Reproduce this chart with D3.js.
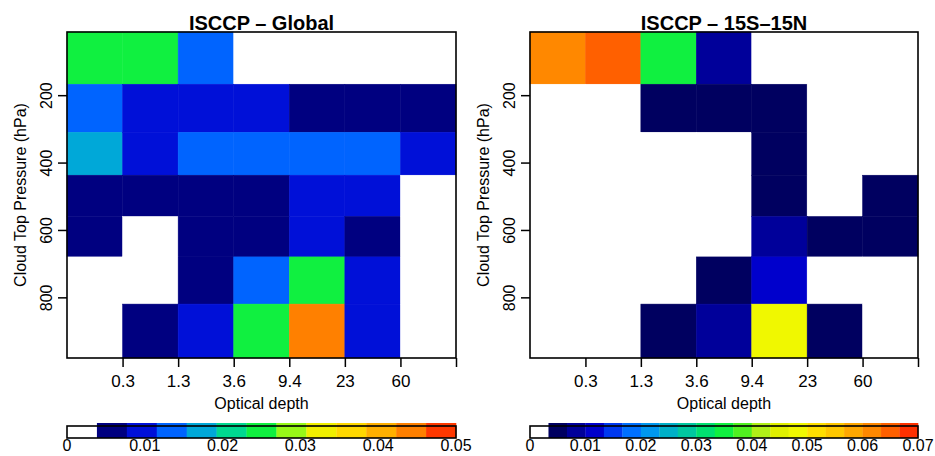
<!DOCTYPE html>
<html>
<head>
<meta charset="utf-8">
<script src="https://cdn.jsdelivr.net/npm/d3@7"></script>
<style>
  body { margin: 0; background: #fff; }
  text { font-family: "Liberation Sans", Arial, sans-serif; fill: #000; }
</style>
</head>
<body>
<div id="main"></div>
<script>
const width = 935;
const height = 456;

// optical depth bins (labels sit on bin edges)
const tauLabels = ["0.3", "1.3", "3.6", "9.4", "23", "60"];
// cloud top pressure bin edges, hPa (top -> bottom)
const presEdges = [12.5, 167.5, 310, 437.5, 560, 680, 820, 980];
const presTicks = [200, 400, 600, 800];

// rows = pressure bins from top (low hPa) to bottom, cols = optical depth bins
const globalVals = [
  [0.025, 0.025, 0.013, 0, 0, 0, 0],
  [0.013, 0.0095, 0.0095, 0.0095, 0.006, 0.006, 0.006],
  [0.017, 0.0095, 0.013, 0.013, 0.013, 0.013, 0.0095],
  [0.006, 0.006, 0.006, 0.006, 0.0095, 0.0095, 0.002],
  [0.005, 0.002, 0.005, 0.005, 0.009, 0.005, 0.001],
  [0.001, 0.002, 0.006, 0.013, 0.025, 0.009, 0.002],
  [0.0005, 0.005, 0.009, 0.024, 0.044, 0.009, 0.002]
];
const tropicsVals = [
  [0.062, 0.065, 0.035, 0.008, 0, 0, 0],
  [0.001, 0.002, 0.005, 0.005, 0.005, 0.002, 0.001],
  [0, 0.001, 0.002, 0.003, 0.005, 0.002, 0.001],
  [0, 0, 0.001, 0.003, 0.005, 0.002, 0.005],
  [0, 0, 0.001, 0.003, 0.008, 0.005, 0.005],
  [0, 0, 0.002, 0.005, 0.012, 0.003, 0.001],
  [0, 0, 0.005, 0.008, 0.047, 0.005, 0.002]
];

const globalTicks = [0, 0.01, 0.02, 0.03, 0.04, 0.05];
const tropicsTicks = [0, 0.01, 0.02, 0.03, 0.04, 0.05, 0.06, 0.07];

const globalColors = ["#000080", "#0010d8", "#0064ff", "#00a8d8", "#00d890", "#10f040",
  "#98f818", "#f0f000", "#ffd800", "#ffb000", "#ff8000", "#ff3800"];
const tropicsColors = ["#000060", "#00009a", "#0000cc", "#0038f0", "#0070ff", "#0098f0",
  "#00b0c8", "#00c8a0", "#00e070", "#10f040", "#50f020", "#b0f018", "#e0f000", "#f0f800",
  "#ffe000", "#ffc800", "#ffa800", "#ff8800", "#ff6000", "#ff3000"];

const panels = [
  { title: "ISCCP \u2013 Global", vals: globalVals, max: 0.05, ticks: globalTicks, colors: globalColors, x0: 67, x1: 456 },
  { title: "ISCCP \u2013 15S\u201315N", vals: tropicsVals, max: 0.07, ticks: tropicsTicks, colors: tropicsColors, x0: 530, x1: 918 }
];

const plotTop = 32, plotBottom = 358;

const svg = d3.select("#main").append("svg")
  .attr("width", width)
  .attr("height", height);

panels.forEach(p => {
  const g = svg.append("g");
  const nLev = p.colors.length + 1;
  const color = d3.scaleThreshold()
    .domain(d3.range(1, nLev).map(k => k * p.max / nLev))
    .range(["#ffffff"].concat(p.colors));

  const x = d3.scaleLinear().domain([0, 7]).range([p.x0, p.x1]);
  const y = d3.scaleLinear().domain([presEdges[0], presEdges[presEdges.length - 1]]).range([plotTop, plotBottom]);

  const cells = [];
  p.vals.forEach((row, i) => row.forEach((v, j) => cells.push({ i, j, v })));

  g.selectAll("rect.cell")
    .data(cells)
    .join("rect")
    .attr("class", "cell")
    .attr("x", d => x(d.j))
    .attr("y", d => y(presEdges[d.i]))
    .attr("width", d => x(d.j + 1) - x(d.j))
    .attr("height", d => y(presEdges[d.i + 1]) - y(presEdges[d.i]))
    .attr("fill", d => color(d.v))
    .attr("stroke", d => color(d.v))
    .attr("stroke-width", 0.5);

  // frame
  g.append("rect")
    .attr("x", p.x0).attr("y", plotTop)
    .attr("width", p.x1 - p.x0).attr("height", plotBottom - plotTop)
    .attr("fill", "none").attr("stroke", "#000").attr("stroke-width", 1.6);

  const xAxis = g.append("g")
    .attr("transform", `translate(0,${plotBottom})`)
    .call(d3.axisBottom(x).tickValues(d3.range(1, 8)).tickSize(9).tickPadding(8)
      .tickFormat(d => tauLabels[d - 1] || ""));
  xAxis.select(".domain").remove();
  xAxis.selectAll("line").attr("stroke-width", 1.5);
  xAxis.selectAll("text").attr("font-size", 17).attr("font-family", null);

  const yAxis = g.append("g")
    .attr("transform", `translate(${p.x0},0)`)
    .call(d3.axisLeft(y).tickValues(presTicks).tickSize(9));
  yAxis.select(".domain").remove();
  yAxis.selectAll("line").attr("stroke-width", 1.5);
  yAxis.selectAll("text")
    .attr("font-size", 16).attr("font-family", null)
    .attr("transform", "rotate(-90)")
    .attr("x", 0).attr("y", -15).attr("dy", 0)
    .attr("text-anchor", "middle");

  g.append("text")
    .attr("x", (p.x0 + p.x1) / 2).attr("y", 30)
    .attr("text-anchor", "middle")
    .attr("font-size", 20).attr("font-weight", "bold")
    .text(p.title);

  g.append("text")
    .attr("x", (p.x0 + p.x1) / 2).attr("y", 409)
    .attr("text-anchor", "middle")
    .attr("font-size", 16)
    .text("Optical depth");

  g.append("text")
    .attr("transform", `translate(${p.x0 - 41},${(plotTop + plotBottom) / 2}) rotate(-90)`)
    .attr("text-anchor", "middle")
    .attr("font-size", 16)
    .text("Cloud Top Pressure (hPa)");

  // colour bar
  const cx = d3.scaleLinear().domain([0, p.max]).range([p.x0, p.x1]);
  const levels = d3.range(nLev);
  g.selectAll("rect.lev")
    .data(levels)
    .join("rect")
    .attr("class", "lev")
    .attr("x", k => cx(k * p.max / nLev))
    .attr("y", k => k === 0 ? 426 : 423)
    .attr("width", k => cx((k + 1) * p.max / nLev) - cx(k * p.max / nLev) + 0.3)
    .attr("height", k => k === 0 ? 12 : 15)
    .attr("fill", k => color(k * p.max / nLev + 1e-9));
  g.append("rect")
    .attr("x", p.x0).attr("y", 426)
    .attr("width", p.x1 - p.x0).attr("height", 12)
    .attr("fill", "none").attr("stroke", "#000").attr("stroke-width", 1.6);

  g.selectAll("text.cb")
    .data(p.ticks)
    .join("text")
    .attr("class", "cb")
    .attr("x", d => cx(d)).attr("y", 451)
    .attr("text-anchor", "middle")
    .attr("font-size", 16)
    .text(d => d === 0 ? "0" : d3.format(".2f")(d));
});
</script>
</body>
</html>
